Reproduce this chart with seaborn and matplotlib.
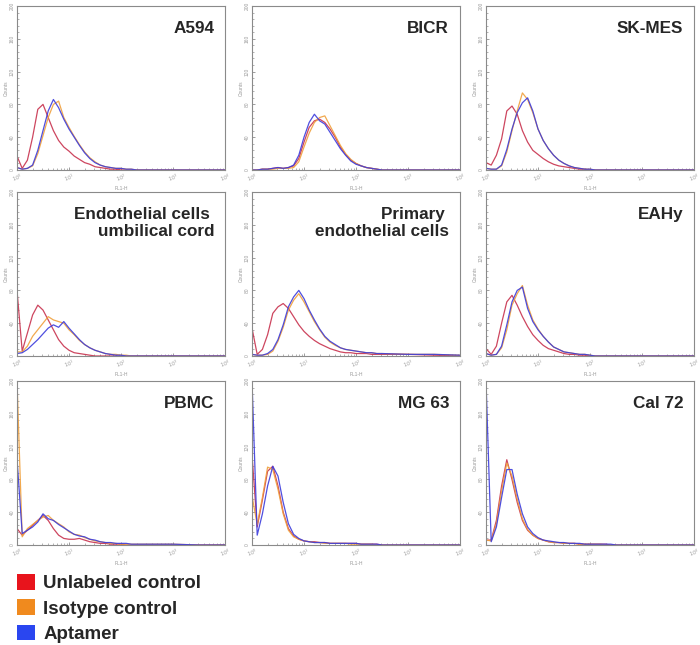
import numpy as np
import pandas as pd
import seaborn as sns
import matplotlib.pyplot as plt
from matplotlib.patches import Patch
from matplotlib.ticker import FixedLocator, MultipleLocator, LogLocator, NullFormatter

LOG_FL = [0.0, 0.1, 0.2, 0.3, 0.4, 0.5, 0.6, 0.7, 0.8, 0.9,
          1.0, 1.1, 1.2, 1.3, 1.4, 1.5, 1.6, 1.7, 1.8, 1.9,
          2.0, 2.1, 2.2, 2.3, 2.4, 2.5, 3.0, 3.5, 4.0]

SERIES = ['Unlabeled control', 'Isotype control', 'Aptamer']
PANELS = ['A594', 'BICR', 'SK-MES',
          'Endothelial cells \numbilical cord', 'Primary \nendothelial cells', 'EAHy',
          'PBMC', 'MG 63', 'Cal 72']

# counts per panel: unlabeled, isotype, aptamer
a594_unlab = [17, 2, 12, 40, 74, 80, 64, 48, 36, 28, 23, 17, 13, 9, 7, 4, 3, 2, 1, 1, 0, 0, 0, 0, 0, 0, 0, 0, 0]
a594_iso = [3, 1, 2, 5, 20, 42, 64, 80, 84, 64, 52, 41, 31, 22, 15, 10, 6, 4, 3, 2, 2, 1, 1, 0, 0, 0, 0, 0, 0]
a594_apt = [3, 1, 2, 6, 24, 48, 72, 86, 76, 62, 50, 40, 30, 21, 14, 9, 6, 4, 3, 2, 2, 1, 1, 0, 0, 0, 0, 0, 0]

bicr_unlab = [0, 0, 1, 1, 2, 3, 2, 3, 5, 14, 34, 52, 60, 62, 58, 50, 40, 28, 19, 12, 8, 5, 3, 2, 1, 0, 0, 0, 0]
bicr_iso = [0, 0, 1, 1, 1, 2, 2, 2, 3, 10, 28, 45, 58, 64, 66, 54, 42, 30, 20, 13, 8, 5, 3, 2, 1, 0, 0, 0, 0]
bicr_apt = [0, 0, 1, 1, 2, 3, 2, 3, 6, 18, 40, 58, 68, 60, 56, 46, 36, 26, 18, 11, 7, 5, 3, 2, 1, 0, 0, 0, 0]

skmes_unlab = [9, 6, 18, 38, 72, 78, 68, 48, 34, 24, 19, 14, 10, 7, 5, 4, 3, 2, 1, 1, 0, 0, 0, 0, 0, 0, 0, 0, 0]
skmes_iso = [2, 1, 1, 5, 22, 48, 72, 94, 86, 70, 50, 36, 26, 18, 12, 8, 5, 3, 2, 1, 1, 0, 0, 0, 0, 0, 0, 0, 0]
skmes_apt = [2, 1, 1, 6, 25, 50, 70, 82, 88, 72, 50, 36, 26, 18, 12, 8, 5, 3, 2, 1, 1, 0, 0, 0, 0, 0, 0, 0, 0]

umb_unlab = [80, 6, 28, 50, 62, 56, 44, 32, 20, 12, 7, 4, 3, 2, 1, 0, 0, 0, 0, 0, 0, 0, 0, 0, 0, 0, 0, 0, 0]
umb_iso = [5, 5, 12, 24, 32, 40, 48, 44, 42, 40, 32, 26, 19, 14, 10, 7, 5, 3, 2, 2, 1, 1, 0, 0, 0, 0, 0, 0, 0]
umb_apt = [3, 4, 8, 14, 20, 27, 34, 38, 35, 42, 34, 27, 20, 14, 10, 7, 5, 3, 2, 1, 1, 0, 0, 0, 0, 0, 0, 0, 0]

prim_unlab = [34, 2, 8, 26, 52, 60, 64, 58, 48, 38, 30, 24, 19, 15, 12, 9, 7, 5, 4, 4, 3, 3, 3, 2, 2, 2, 2, 1, 0]
prim_iso = [2, 1, 1, 2, 6, 18, 35, 56, 68, 76, 66, 54, 42, 32, 23, 17, 13, 10, 8, 7, 6, 5, 4, 4, 3, 3, 2, 2, 1]
prim_apt = [2, 1, 1, 3, 8, 20, 38, 60, 72, 80, 70, 56, 44, 33, 24, 18, 14, 10, 8, 7, 6, 5, 4, 4, 3, 3, 2, 2, 1]

eahy_unlab = [9, 2, 12, 40, 66, 74, 62, 48, 36, 26, 19, 13, 9, 7, 5, 3, 2, 2, 1, 1, 0, 0, 0, 0, 0, 0, 0, 0, 0]
eahy_iso = [3, 1, 2, 10, 32, 62, 76, 86, 62, 44, 33, 24, 17, 11, 8, 5, 4, 3, 2, 2, 1, 0, 0, 0, 0, 0, 0, 0, 0]
eahy_apt = [3, 1, 2, 12, 38, 66, 80, 84, 58, 42, 32, 24, 17, 11, 8, 5, 4, 3, 2, 2, 1, 0, 0, 0, 0, 0, 0, 0, 0]

pbmc_unlab = [20, 12, 18, 24, 30, 36, 30, 20, 12, 8, 7, 7, 8, 6, 4, 3, 2, 2, 1, 1, 1, 0, 0, 0, 0, 0, 0, 0, 0]
pbmc_iso = [200, 10, 20, 25, 30, 34, 36, 30, 26, 22, 16, 13, 12, 9, 7, 5, 4, 3, 2, 2, 1, 1, 1, 1, 1, 1, 1, 0, 0]
pbmc_apt = [105, 14, 18, 22, 28, 38, 32, 30, 25, 21, 17, 13, 11, 10, 7, 6, 4, 3, 3, 2, 2, 2, 1, 1, 1, 1, 1, 0, 0]

mg63_unlab = [110, 22, 55, 90, 96, 72, 40, 20, 11, 7, 5, 4, 4, 3, 3, 2, 2, 2, 2, 2, 2, 1, 1, 1, 1, 0, 0, 0, 0]
mg63_iso = [60, 25, 58, 95, 92, 68, 38, 18, 10, 7, 5, 4, 3, 3, 2, 2, 2, 2, 2, 1, 1, 1, 1, 1, 0, 0, 0, 0, 0]
mg63_apt = [200, 12, 38, 72, 96, 84, 52, 26, 13, 8, 5, 4, 3, 3, 3, 2, 2, 2, 2, 2, 2, 1, 1, 1, 1, 0, 0, 0, 0]

cal72_unlab = [6, 6, 30, 72, 104, 80, 52, 30, 18, 12, 8, 6, 4, 3, 3, 2, 2, 2, 1, 1, 1, 1, 1, 1, 0, 0, 0, 0, 0]
cal72_iso = [6, 5, 26, 66, 100, 84, 56, 32, 19, 12, 8, 6, 4, 3, 3, 2, 2, 2, 1, 1, 1, 1, 1, 0, 0, 0, 0, 0, 0]
cal72_apt = [200, 4, 22, 58, 92, 92, 62, 38, 22, 14, 9, 6, 5, 4, 3, 3, 2, 2, 2, 1, 1, 1, 1, 1, 1, 0, 0, 0, 0]

panel_counts = [
    (a594_unlab, a594_iso, a594_apt),
    (bicr_unlab, bicr_iso, bicr_apt),
    (skmes_unlab, skmes_iso, skmes_apt),
    (umb_unlab, umb_iso, umb_apt),
    (prim_unlab, prim_iso, prim_apt),
    (eahy_unlab, eahy_iso, eahy_apt),
    (pbmc_unlab, pbmc_iso, pbmc_apt),
    (mg63_unlab, mg63_iso, mg63_apt),
    (cal72_unlab, cal72_iso, cal72_apt),
]

# long form table for seaborn
rows = []
for p, counts in zip(PANELS, panel_counts):
    for s, vals in zip(SERIES, counts):
        for lx, v in zip(LOG_FL, vals):
            rows.append((p, s, 10 ** lx, v))
df = pd.DataFrame(rows, columns=['panel', 'series', 'FL1-H', 'Counts'])

sns.set_style('white')
plt.rcParams['font.family'] = ['Liberation Sans', 'DejaVu Sans']

line_colors = {'Unlabeled control': '#c8324e', 'Isotype control': '#f0a03c', 'Aptamer': '#3c3cdc'}
patch_colors = ['#e8141c', '#f08a1e', '#2a46f0']

W, H = 700, 645
fig = plt.figure(figsize=(7, 6.45), dpi=100)

lefts = [17, 252, 486]
tops = [6, 192, 381]
aw, ah = 208, 164

for i, p in enumerate(PANELS):
    r, c = divmod(i, 3)
    ax = fig.add_axes([lefts[c] / W, 1 - (tops[r] + ah) / H, aw / W, ah / H])
    sub = df[df['panel'] == p]
    sns.lineplot(data=sub, x='FL1-H', y='Counts', hue='series', hue_order=SERIES,
                 palette=line_colors, estimator=None, lw=0.9, alpha=0.9,
                 legend=False, ax=ax)
    ax.set_xscale('log')
    ax.set_xlim(1, 1e4)
    ax.set_ylim(0, 200)
    for sp in ax.spines.values():
        sp.set_color('#8a8a8a')
        sp.set_linewidth(0.8)
    ax.xaxis.set_major_locator(FixedLocator([1, 10, 100, 1000, 10000]))
    ax.set_xticklabels(['$10^0$', '$10^1$', '$10^2$', '$10^3$', '$10^4$'])
    ax.xaxis.set_minor_locator(LogLocator(base=10, subs=np.arange(2, 10)))
    ax.xaxis.set_minor_formatter(NullFormatter())
    ax.yaxis.set_major_locator(MultipleLocator(40))
    ax.yaxis.set_minor_locator(MultipleLocator(8))
    ax.tick_params(which='both', direction='in', color='#777777', labelcolor='#999999',
                   labelsize=3.5, pad=1.5, bottom=True, left=True)
    ax.tick_params(which='major', length=2.5, width=0.5)
    ax.tick_params(which='minor', length=1.3, width=0.4)
    for t in ax.get_yticklabels():
        t.set_rotation(90)
        t.set_va('center')
    for t in ax.get_xticklabels():
        t.set_rotation(20)
    ax.set_xlabel('FL1-H', fontsize=3.5, color='#999999', labelpad=1)
    ax.set_ylabel('Counts', fontsize=3.5, color='#999999', labelpad=1)
    ax.text(0.948, 0.91, p, transform=ax.transAxes, ha='right', va='top',
            fontsize=12.3, fontweight='bold', linespacing=1.2)

handles = [Patch(facecolor=col, edgecolor='none') for col in patch_colors]
fig.legend(handles, SERIES, loc='upper left', bbox_to_anchor=(17 / W, 1 - 574 / H),
           frameon=False, prop={'weight': 'bold', 'size': 13.5},
           handlelength=0.95, handleheight=0.9, handletextpad=0.45,
           labelspacing=0.38, borderpad=0, borderaxespad=0)

fig.savefig('out.png', dpi=100)
